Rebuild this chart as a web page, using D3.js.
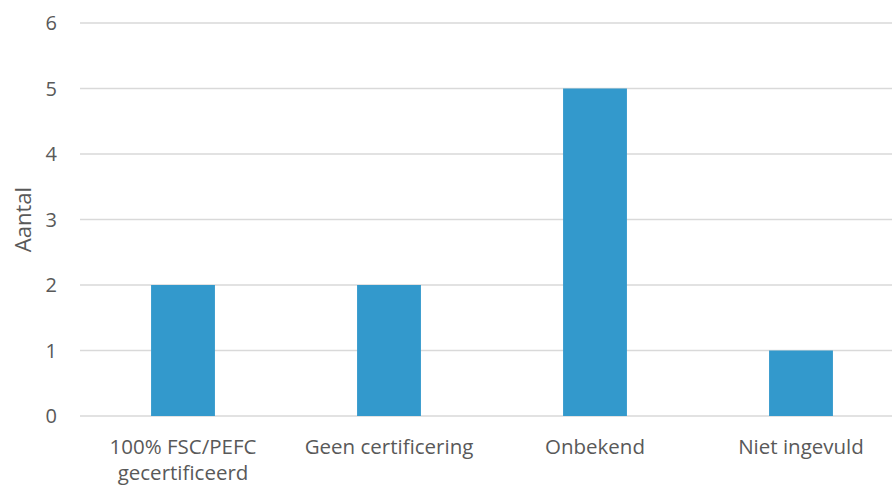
<!DOCTYPE html>
<style>
body { margin: 0; background: #fff; }
svg { font-family: "Open Sans", sans-serif; }
</style>
<svg width="892" height="486"></svg>
<script src="https://d3js.org/d3.v7.min.js"></script>
<script>

var categories = [["100% FSC/PEFC", "gecertificeerd"], ["Geen certificering"], ["Onbekend"], ["Niet ingevuld"]],
    values = [2, 2, 5, 1],
    yTicks = [0, 1, 2, 3, 4, 5, 6];

var svg = d3.select("svg");

var x = d3.scaleBand()
    .domain(d3.range(categories.length))
    .range([80, 904])
    .paddingInner(0.69)
    .paddingOuter(0.345);

var y = d3.scaleLinear()
    .domain([0, 6])
    .range([416, 23]);

// gridlines
svg.append("g")
  .selectAll("line")
  .data(yTicks)
  .enter().append("line")
    .attr("x1", 80)
    .attr("x2", 892)
    .attr("y1", function(d) { return y(d); })
    .attr("y2", function(d) { return y(d); })
    .attr("stroke", "#d9d9d9")
    .attr("stroke-width", 1.5);

svg.append("g")
  .selectAll("text")
  .data(yTicks)
  .enter().append("text")
    .attr("x", 57)
    .attr("y", function(d) { return y(d); })
    .attr("dy", "0.35em")
    .attr("text-anchor", "end")
    .attr("fill", "#595959")
    .style("font-size", "20px")
    .text(function(d) { return d; });

svg.append("g")
  .selectAll("rect")
  .data(values)
  .enter().append("rect")
    .attr("x", function(d, i) { return x(i); })
    .attr("width", x.bandwidth())
    .attr("y", function(d) { return y(d); })
    .attr("height", function(d) { return y(0) - y(d); })
    .attr("fill", "#3399cc");

svg.append("g")
  .selectAll("text")
  .data(categories)
  .enter().append("text")
    .attr("text-anchor", "middle")
    .attr("fill", "#595959")
    .style("font-size", "20.5px")
  .selectAll("tspan")
    .data(function(d, i) { return d.map(function(s) { return {s: s, i: i}; }); })
  .enter().append("tspan")
    .attr("x", function(d) { return x(d.i) + x.bandwidth() / 2; })
    .attr("y", function(d, j) { return 454 + j * 26; })
    .text(function(d) { return d.s; });

svg.append("text")
    .attr("transform", "translate(31," + y(3) + ") rotate(-90)")
    .attr("text-anchor", "middle")
    .attr("fill", "#595959")
    .style("font-size", "22px")
    .text("Aantal");

</script>
